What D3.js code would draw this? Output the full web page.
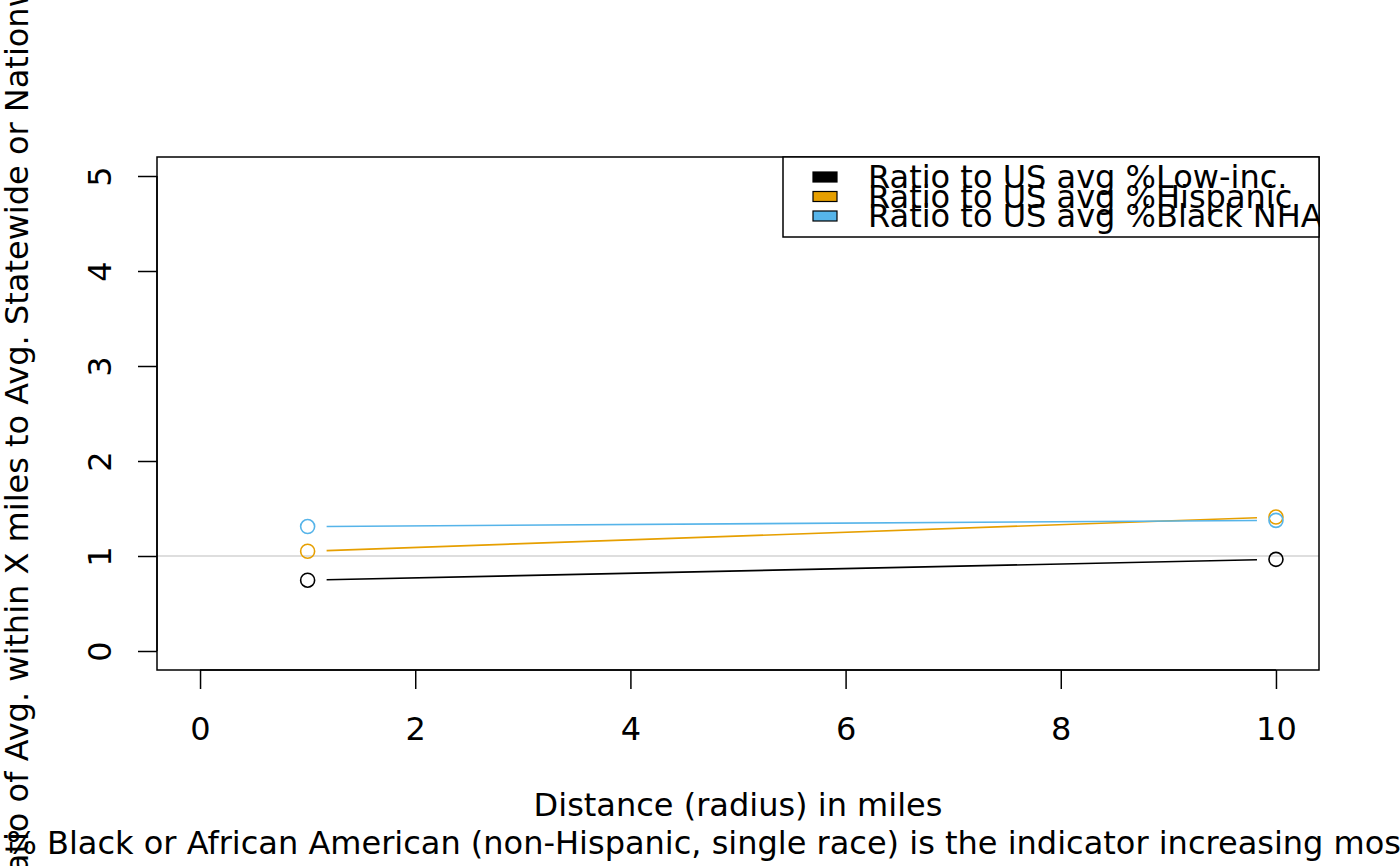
<!DOCTYPE html>
<html><head><meta charset="utf-8">
<script src="https://cdn.jsdelivr.net/npm/d3@7"></script>
<style>
html,body{margin:0;padding:0;background:#fff;}
svg{display:block;font-family:"DejaVu Sans",sans-serif;}
</style></head>
<body>
<svg id="chart" width="1400" height="866"></svg>
<script>
// ---- data ----
const distances = [1, 10];
const seriesNames = ["Ratio to US avg %Low-inc.", "Ratio to US avg %Hispanic", "Ratio to US avg %Black NHA"];
const seriesColors = ["#000000", "#E69F00", "#56B4E9"];
const lowIncValues = [0.745, 0.965];
const hispanicValues = [1.05, 1.41];
const blackValues = [1.31, 1.375];
const xTicks = [0, 2, 4, 6, 8, 10];
const yTicks = [0, 1, 2, 3, 4, 5];
const referenceLine = 1;
const xTitle = "Distance (radius) in miles";
const yTitle = "Ratio of Avg. within X miles to Avg. Statewide or Nationwide";
const subTitle = "% Black or African American (non-Hispanic, single race) is the indicator increasing most as you get closer";

const series = [lowIncValues, hispanicValues, blackValues].map((v, i) => ({
  name: seriesNames[i], color: seriesColors[i],
  pts: distances.map((d, j) => ({x: d, y: v[j]}))
}));

const svg = d3.select("#chart");
const L = 157, R = 1319, T = 157, B = 670;
const x = d3.scaleLinear().domain([-0.4, 10.4]).range([L, R]);
const y = d3.scaleLinear().domain([-0.2, 5.2]).range([B, T]);
const fs = 32;

svg.append("defs").append("clipPath").attr("id", "plotclip")
  .append("rect").attr("x", L).attr("y", T).attr("width", R - L).attr("height", B - T);

const plot = svg.append("g").attr("clip-path", "url(#plotclip)");

// reference line
plot.append("line")
  .attr("x1", L).attr("x2", R)
  .attr("y1", y(referenceLine)).attr("y2", y(referenceLine))
  .attr("stroke", "#D3D3D3").attr("stroke-width", 1.5);

// series lines (type "b": gaps at points) and points
const gap = 19;
series.forEach(s => {
  for (let j = 0; j < s.pts.length - 1; j++) {
    const x1 = x(s.pts[j].x), y1 = y(s.pts[j].y), x2 = x(s.pts[j+1].x), y2 = y(s.pts[j+1].y);
    const len = Math.hypot(x2 - x1, y2 - y1), ux = (x2 - x1) / len, uy = (y2 - y1) / len;
    plot.append("line")
      .attr("x1", x1 + ux * gap).attr("y1", y1 + uy * gap)
      .attr("x2", x2 - ux * gap).attr("y2", y2 - uy * gap)
      .attr("stroke", s.color).attr("stroke-width", 1.6);
  }
  plot.selectAll(null).data(s.pts).enter().append("circle")
    .attr("cx", d => x(d.x)).attr("cy", d => y(d.y)).attr("r", 7)
    .attr("fill", "none").attr("stroke", s.color).attr("stroke-width", 1.6);
});

// box
svg.append("rect").attr("x", L).attr("y", T).attr("width", R - L).attr("height", B - T)
  .attr("fill", "none").attr("stroke", "#000").attr("stroke-width", 1.5);

// x axis
const xa = svg.append("g").attr("transform", `translate(0,${B})`)
  .call(d3.axisBottom(x).tickValues(xTicks).tickSize(19).tickSizeOuter(0).tickFormat(d3.format("d")));
xa.select(".domain").attr("d", `M${x(xTicks[0])},0H${x(xTicks[xTicks.length-1])}`).attr("stroke-width", 1.5);
xa.selectAll(".tick line").attr("stroke-width", 1.5);
xa.selectAll("text").attr("font-size", fs).attr("font-family", "DejaVu Sans").attr("fill", "#000")
  .attr("y", 70).attr("dy", null);

// y axis
const ya = svg.append("g").attr("transform", `translate(${L},0)`)
  .call(d3.axisLeft(y).tickValues(yTicks).tickSize(19).tickSizeOuter(0).tickFormat(d3.format("d")));
ya.select(".domain").attr("d", `M0,${y(yTicks[0])}V${y(yTicks[yTicks.length-1])}`).attr("stroke-width", 1.5);
ya.selectAll(".tick line").attr("stroke-width", 1.5);
ya.selectAll("text").attr("font-size", fs).attr("font-family", "DejaVu Sans").attr("fill", "#000")
  .attr("x", 0).attr("dy", null).attr("text-anchor", "middle")
  .attr("transform", "translate(-46,0) rotate(-90)");

// titles
svg.append("text").attr("x", (L + R) / 2).attr("y", 816).attr("text-anchor", "middle")
  .attr("font-size", fs).text(xTitle);
svg.append("text").attr("transform", `translate(28,${(T + B) / 2}) rotate(-90)`).attr("text-anchor", "middle")
  .attr("font-size", fs).text(yTitle);
const sub = svg.append("text").attr("y", 854).attr("font-size", fs).text(subTitle);
// position so that the word after the leading "% " starts where the reference shows it
const probeA = svg.append("text").attr("font-size", fs).text("% B");
const probeB = svg.append("text").attr("font-size", fs).text("B");
const pw = probeA.node().getComputedTextLength() - probeB.node().getComputedTextLength();
probeA.remove(); probeB.remove();
sub.attr("x", 47 - pw);

// legend
svg.append("defs").append("clipPath").attr("id", "legclip")
  .append("rect").attr("x", 0).attr("y", 0).attr("width", R + 1).attr("height", 866);
const leg = svg.append("g").attr("clip-path", "url(#legclip)");
leg.append("rect").attr("x", 783).attr("y", T).attr("width", R - 783).attr("height", 80)
  .attr("fill", "#fff").attr("stroke", "#000").attr("stroke-width", 1.5);
series.forEach((s, i) => {
  const cy = 177 + i * 19.5;
  leg.append("rect").attr("x", 813).attr("y", cy - 5).attr("width", 24).attr("height", 10)
    .attr("fill", s.color).attr("stroke", "#000").attr("stroke-width", 1.2);
  leg.append("text").attr("x", 868).attr("y", cy + 11).attr("font-size", fs).text(s.name);
});
</script>
</body></html>
